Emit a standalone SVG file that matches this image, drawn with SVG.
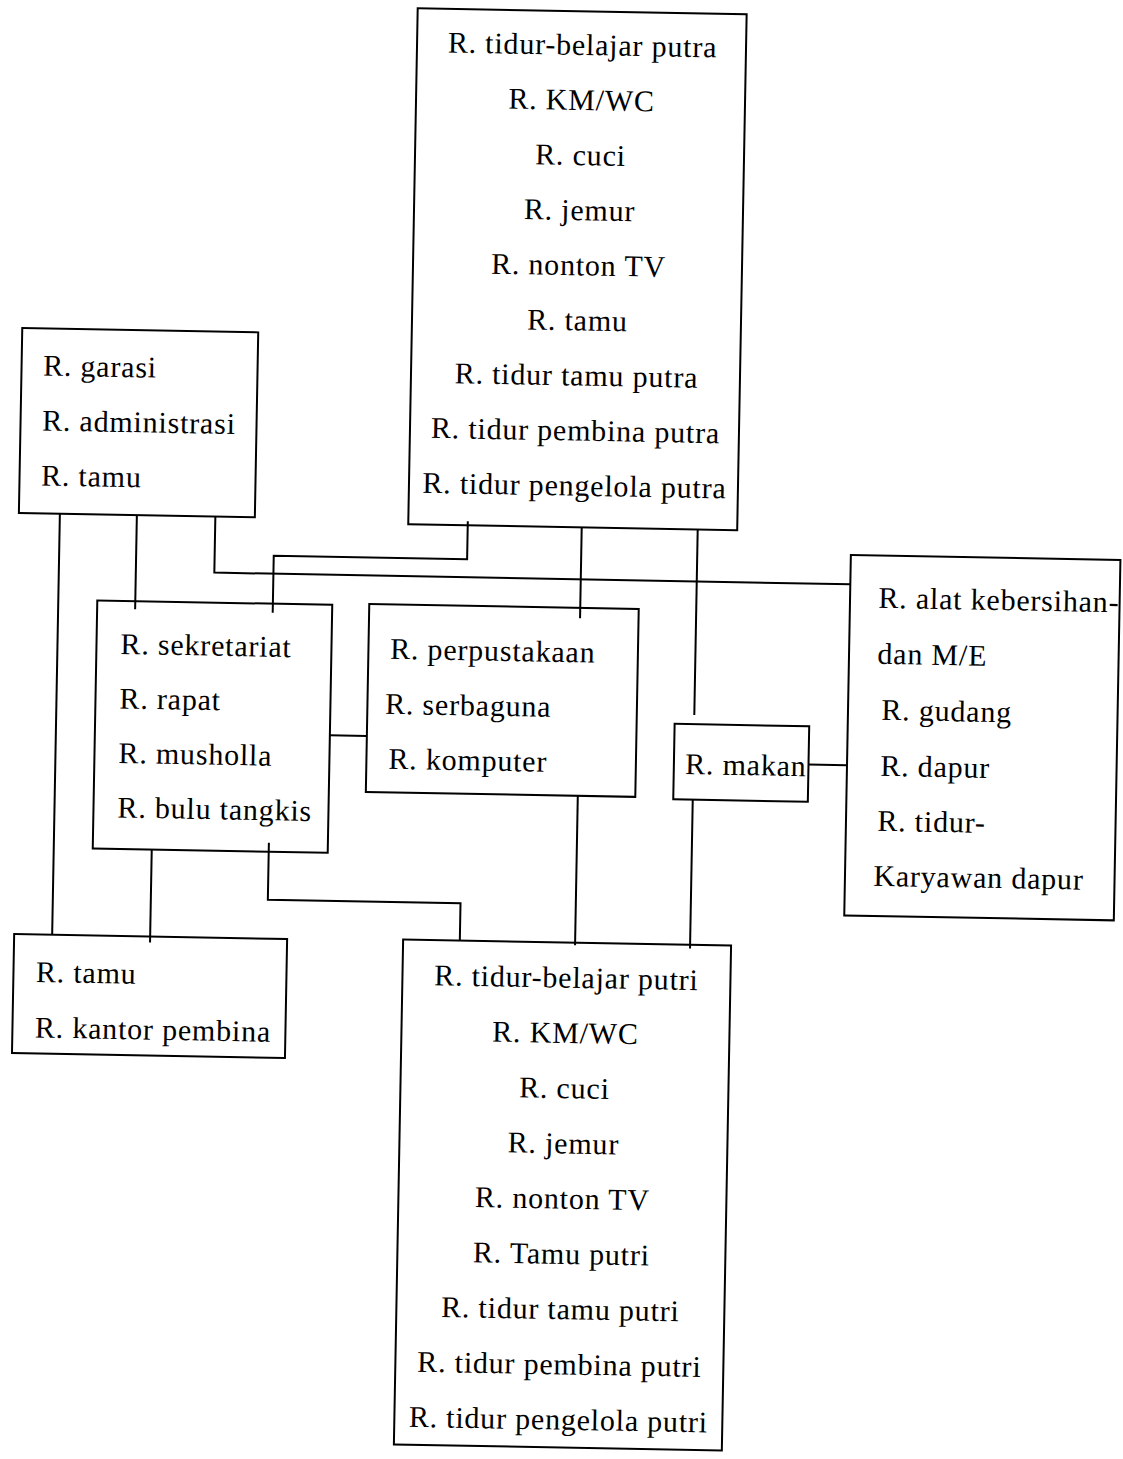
<svg xmlns="http://www.w3.org/2000/svg" width="1123" height="1459" viewBox="0 0 1123 1459">
  <style>
    .box { fill: none; stroke: #000; stroke-width: 2; }
    .wire { fill: none; stroke: #000; stroke-width: 2; }
    text { font-family: "Liberation Serif", "Times New Roman", serif; font-size: 30px; letter-spacing: 0.8px; fill: #000; }
    .c { text-anchor: middle; }
  </style>
  <rect width="1123" height="1459" fill="#fff"/>
  <!-- the whole sheet sits at a slight tilt -->
  <g transform="rotate(1.05 561 730)">
    <g id="connectors">
      <path class="wire" d="M56,523 V944"/>
      <path class="wire" d="M133,523 V617"/>
      <path class="wire" d="M211.5,523 V579 H847.6"/>
      <path class="wire" d="M464,523 V561 H270.6 V618"/>
      <path class="wire" d="M578,527 V618"/>
      <path class="wire" d="M694,527.5 V712.5"/>
      <path class="wire" d="M330,739.6 H367"/>
      <path class="wire" d="M809,760 H847.6"/>
      <path class="wire" d="M154,857.5 V950"/>
      <path class="wire" d="M271,848 V905 H463.7 V942.4"/>
      <path class="wire" d="M579,795.3 V945"/>
      <path class="wire" d="M694,797.2 V946"/>
    </g>

    <g id="asrama-putra">
      <rect class="box" x="404.5" y="11" width="329" height="516"/>
      <text class="c" x="570" y="54.6">R. tidur-belajar putra</text>
      <text class="c" x="570" y="109.7">R. KM/WC</text>
      <text class="c" x="570" y="164.8">R. cuci</text>
      <text class="c" x="570" y="219.9">R. jemur</text>
      <text class="c" x="570" y="275">R. nonton TV</text>
      <text class="c" x="570" y="330.1">R. tamu</text>
      <text class="c" x="570" y="385.2">R. tidur tamu putra</text>
      <text class="c" x="570" y="440.3">R. tidur pembina putra</text>
      <text class="c" x="570" y="495.4">R. tidur pengelola putra</text>
    </g>

    <g id="garasi-admin">
      <rect class="box" x="15" y="338" width="236" height="185"/>
      <text x="36.5" y="385">R. garasi</text>
      <text x="36.5" y="440">R. administrasi</text>
      <text x="36.5" y="495">R. tamu</text>
    </g>

    <g id="sekretariat">
      <rect class="box" x="95" y="609" width="235" height="248"/>
      <text x="119" y="662">R. sekretariat</text>
      <text x="119" y="716.5">R. rapat</text>
      <text x="119" y="771">R. musholla</text>
      <text x="119" y="825.5">R. bulu tangkis</text>
    </g>

    <g id="perpustakaan">
      <rect class="box" x="367" y="607.5" width="269.5" height="188"/>
      <text x="388.7" y="662">R. perpustakaan</text>
      <text x="384.7" y="717">R. serbaguna</text>
      <text x="389" y="772">R. komputer</text>
    </g>

    <g id="makan">
      <rect class="box" x="674.5" y="721.7" width="134.6" height="75.5"/>
      <text x="685.8" y="771.7">R. makan</text>
    </g>

    <g id="servis">
      <rect class="box" x="847.6" y="549.7" width="269.6" height="360.5"/>
      <text x="876" y="602">R. alat kebersihan-</text>
      <text x="876" y="658">dan M/E</text>
      <text x="881" y="714">R. gudang</text>
      <text x="881" y="770">R. dapur</text>
      <text x="879" y="825">R. tidur-</text>
      <text x="876" y="880">Karyawan dapur</text>
    </g>

    <g id="kantor-pembina">
      <rect class="box" x="18" y="944" width="273" height="119"/>
      <text x="40.5" y="991.5">R. tamu</text>
      <text x="40.5" y="1047">R. kantor pembina</text>
    </g>

    <g id="asrama-putri">
      <rect class="box" x="407" y="942.4" width="328" height="505"/>
      <text class="c" x="571" y="987.5">R. tidur-belajar putri</text>
      <text class="c" x="571" y="1042.75">R. KM/WC</text>
      <text class="c" x="571" y="1098">R. cuci</text>
      <text class="c" x="571" y="1153.25">R. jemur</text>
      <text class="c" x="571" y="1208.5">R. nonton TV</text>
      <text class="c" x="571" y="1263.75">R. Tamu putri</text>
      <text class="c" x="571" y="1319">R. tidur tamu putri</text>
      <text class="c" x="571" y="1374.25">R. tidur pembina putri</text>
      <text class="c" x="571" y="1429.5">R. tidur pengelola putri</text>
    </g>
  </g>
</svg>
